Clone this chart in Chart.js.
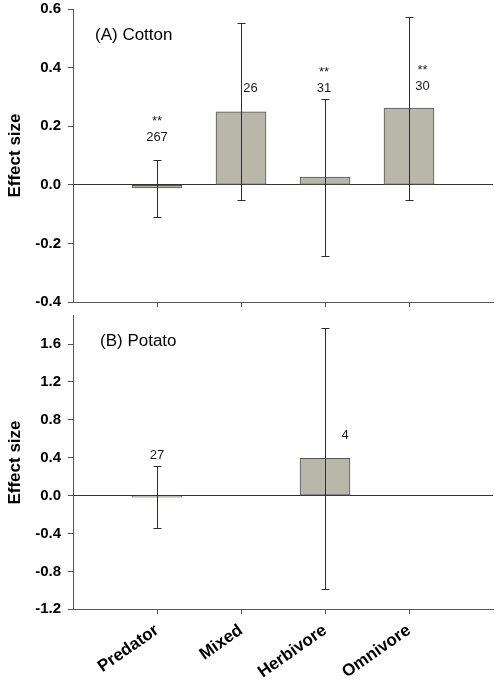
<!DOCTYPE html>
<html>
<head>
<meta charset="utf-8">
<script src="https://cdn.jsdelivr.net/npm/chart.js@4"></script>
<style>
  html, body { margin: 0; padding: 0; background: #ffffff; }
  #wrap { position: relative; width: 498px; height: 682px; background: #ffffff; }
  canvas { position: absolute; left: 0; }
</style>
</head>
<body>
<div id="wrap">
  <canvas id="cotton" width="498" height="310" style="top:0px"></canvas>
  <canvas id="potato" width="498" height="376" style="top:306px"></canvas>
</div>
<script>
// ---------- data ----------
const categories = ['Predator', 'Mixed', 'Herbivore', 'Omnivore'];

const cottonMean  = [-0.011, 0.249, 0.026, 0.262];
const cottonUpper = [0.086, 0.551, 0.292, 0.574];
const cottonLower = [-0.110, -0.052, -0.242, -0.052];
const cottonN     = ['267', '26', '31', '30'];
const cottonSig   = ['**', '', '**', '**'];
const cottonTicks = [-0.4, -0.2, 0.0, 0.2, 0.4, 0.6];

const potatoMean  = [-0.015, null, 0.395, null];
const potatoUpper = [0.317, null, 1.77, null];
const potatoLower = [-0.345, null, -0.983, null];
const potatoN     = ['27', '', '4', ''];
const potatoSig   = ['', '', '', ''];
const potatoTicks = [-1.2, -0.8, -0.4, 0.0, 0.4, 0.8, 1.2, 1.6];

// annotation placement (label anchor in value units, horizontal nudge in px)
const cottonLabelAt = { y: [0.163, 0.329, 0.330, 0.336], dx: [0, 9.5, -1, 13.5] };
const potatoLabelAt = { y: [0.427, null, 0.638, null], dx: [0, 0, 20, 0] };

// ---------- styling ----------
const FONT = "'Liberation Sans', Arial, Helvetica, sans-serif";
Chart.defaults.font.family = FONT;
const BAR_FILL = '#b8b8aa';
const LINE = '#555555';
const axisLabels = [''].concat(categories, ['']);

function overlayPlugin(mean, upper, lower, nText, sig, labelAt, panelText, panelPos) {
  return {
    id: 'overlay',
    afterDatasetsDraw(chart) {
      const { ctx, scales: { x, y }, chartArea } = chart;
      ctx.save();
      // error bars
      ctx.strokeStyle = '#2b2b2b';
      ctx.lineWidth = 1;
      for (let i = 0; i < categories.length; i++) {
        if (upper[i] == null) continue;
        const px = Math.round(x.getPixelForValue(i + 1)) + 0.5;
        const top = Math.round(y.getPixelForValue(upper[i])) + 0.5;
        const bot = Math.round(y.getPixelForValue(lower[i])) + 0.5;
        ctx.beginPath();
        ctx.moveTo(px, top); ctx.lineTo(px, bot);
        ctx.moveTo(px - 4, top); ctx.lineTo(px + 4, top);
        ctx.moveTo(px - 4, bot); ctx.lineTo(px + 4, bot);
        ctx.stroke();
      }
      // sample sizes and significance marks
      ctx.fillStyle = '#1a1a1a';
      ctx.textAlign = 'center';
      ctx.textBaseline = 'middle';
      ctx.font = '13px ' + FONT;
      for (let i = 0; i < categories.length; i++) {
        if (labelAt.y[i] == null) continue;
        const px = x.getPixelForValue(i + 1) + labelAt.dx[i];
        const py = y.getPixelForValue(labelAt.y[i]);
        if (nText[i]) ctx.fillText(nText[i], px, py);
        if (sig[i]) ctx.fillText(sig[i], px, py - 16);
      }
      // panel label
      ctx.textAlign = 'left';
      ctx.textBaseline = 'alphabetic';
      ctx.font = '17px ' + FONT;
      ctx.fillStyle = '#000';
      ctx.fillText(panelText, chartArea.left + panelPos.dx, chartArea.top + panelPos.dy);
      ctx.restore();
    }
  };
}

function makeChart(id, cfg) {
  return new Chart(document.getElementById(id), {
    type: 'bar',
    data: {
      labels: axisLabels,
      datasets: [{
        data: [null].concat(cfg.mean, [null]),
        backgroundColor: BAR_FILL,
        borderColor: LINE,
        borderWidth: 1,
        borderSkipped: false,
        barThickness: 50
      }]
    },
    options: {
      responsive: false,
      animation: false,
      devicePixelRatio: 1,
      layout: { padding: { left: 0, right: 5, top: cfg.padTop, bottom: 0 } },
      plugins: { legend: { display: false }, tooltip: { enabled: false } },
      scales: {
        x: {
          type: 'category',
          offset: false,
          grid: {
            offset: false,
            drawOnChartArea: false,
            drawTicks: true,
            tickLength: 5,
            tickColor: c => (c.index === 0 || c.index === axisLabels.length - 1) ? 'rgba(0,0,0,0)' : LINE
          },
          border: { display: true, color: LINE, width: 1 },
          ticks: {
            display: cfg.showX,
            autoSkip: false,
            maxRotation: 35,
            minRotation: 35,
            padding: 6,
            color: '#000',
            font: { size: 17, weight: 'bold' }
          },
          afterFit: s => { s.height = cfg.xHeight; s.paddingLeft = 0; s.paddingRight = 0; }
        },
        y: {
          min: cfg.min,
          max: cfg.max,
          afterBuildTicks: s => { s.ticks = cfg.ticks.map(v => ({ value: v })); },
          grid: {
            color: c => (c.tick && Math.abs(c.tick.value) < 1e-9) ? '#333333' : 'rgba(0,0,0,0)',
            tickColor: LINE,
            tickLength: 5,
            drawTicks: true
          },
          border: { display: true, color: LINE, width: 1 },
          ticks: {
            padding: 7,
            color: '#000',
            font: { size: 15, weight: 'bold' },
            callback: v => Number(v).toFixed(1)
          },
          title: {
            display: true,
            text: 'Effect size',
            color: '#000',
            font: { size: 17, weight: 'bold' },
            padding: { top: 5, bottom: 0 }
          },
          afterFit: s => { s.width = 73; s.paddingTop = 0; s.paddingBottom = 0; }
        }
      }
    },
    plugins: [overlayPlugin(cfg.mean, cfg.upper, cfg.lower, cfg.n, cfg.sig, cfg.labelAt, cfg.panel, cfg.panelPos)]
  });
}

makeChart('cotton', {
  mean: cottonMean, upper: cottonUpper, lower: cottonLower, n: cottonN, sig: cottonSig,
  labelAt: cottonLabelAt, ticks: cottonTicks, min: -0.4, max: 0.6,
  padTop: 9, xHeight: 8, showX: false,
  panel: '(A) Cotton', panelPos: { dx: 22, dy: 30.5 }
});

makeChart('potato', {
  mean: potatoMean, upper: potatoUpper, lower: potatoLower, n: potatoN, sig: potatoSig,
  labelAt: potatoLabelAt, ticks: potatoTicks, min: -1.2, max: 1.9,
  padTop: 9.7, xHeight: 72.7, showX: true,
  panel: '(B) Potato', panelPos: { dx: 27, dy: 30.3 }
});
</script>
</body>
</html>
